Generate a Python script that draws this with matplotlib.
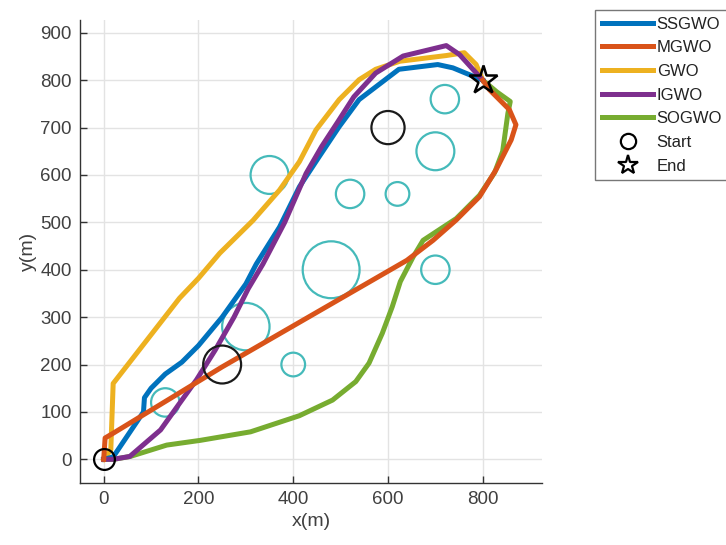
import matplotlib
matplotlib.use("Agg")
import matplotlib.pyplot as plt
from matplotlib.patches import Circle
from matplotlib.lines import Line2D

plt.rcParams['font.family'] = ['Liberation Sans', 'DejaVu Sans']

# ---- data ----
ssgwo_x = [0, 20, 84, 86, 100, 130, 165, 200, 250, 300, 322, 371, 413, 455, 497, 539, 581, 623, 705, 737, 800]
ssgwo_y = [0, 5, 100, 130, 150, 180, 205, 240, 300, 370, 412, 490, 575, 639, 702, 759, 791, 823, 833, 826, 800]

mgwo_x = [0, 3, 20, 250, 640, 695, 744, 793, 828, 860, 870, 856, 814, 800]
mgwo_y = [0, 45, 55, 195, 420, 462, 505, 554, 611, 674, 706, 738, 780, 800]

gwo_x = [0, 15, 20, 160, 200, 245, 315, 371, 413, 448, 497, 539, 574, 625, 723, 761, 786, 800]
gwo_y = [0, 20, 160, 340, 382, 435, 504, 568, 628, 695, 759, 801, 823, 840, 852, 858, 833, 800]

igwo_x = [0, 20, 55, 120, 160, 196, 235, 275, 305, 336, 382, 427, 460, 494, 528, 574, 632, 723, 751, 800]
igwo_y = [0, 0, 6, 62, 118, 168, 230, 300, 360, 412, 500, 603, 660, 712, 765, 815, 851, 873, 854, 800]

sogwo_x = [0, 21, 56, 133, 204, 310, 413, 483, 532, 560, 588, 609, 626, 653, 674, 744, 793, 825, 842, 853, 858, 830, 800]
sogwo_y = [0, 0, 6, 30, 40, 58, 92, 125, 164, 203, 266, 322, 375, 427, 462, 508, 557, 605, 650, 730, 755, 775, 800]

obs_x = [350, 520, 620, 720, 700, 480, 300, 400, 700, 130]
obs_y = [600, 560, 560, 760, 650, 400, 280, 200, 400, 120]
obs_r = [40, 30, 25, 30, 40, 60, 50, 25, 30, 30]

threat_x = [600, 250]
threat_y = [700, 200]
threat_r = [35, 40]

start_pt = (0, 0)
end_pt = (800, 800)

x_ticks = [0, 200, 400, 600, 800]
y_ticks = [0, 100, 200, 300, 400, 500, 600, 700, 800, 900]

labels = ['SSGWO', 'MGWO', 'GWO', 'IGWO', 'SOGWO', 'Start', 'End']
colors = ['#0072BD', '#D95319', '#EDB120', '#7E2F8E', '#77AC30']

# ---- figure ----
fig = plt.figure(figsize=(7.26, 5.45), dpi=100)
ax = fig.add_axes([80/726, 1 - 483/545, 462/726, 463/545])

for cx, cy, r in zip(obs_x, obs_y, obs_r):
    ax.add_patch(Circle((cx, cy), r, fill=False, edgecolor='#45baba', lw=1.6, zorder=2))
for cx, cy, r in zip(threat_x, threat_y, threat_r):
    ax.add_patch(Circle((cx, cy), r, fill=False, edgecolor='#1a1a1a', lw=1.6, zorder=6))

lw = 3.6
ax.plot(sogwo_x, sogwo_y, color=colors[4], lw=lw, zorder=3, solid_joinstyle='round')
ax.plot(gwo_x, gwo_y, color=colors[2], lw=lw, zorder=3, solid_joinstyle='round')
ax.plot(ssgwo_x, ssgwo_y, color=colors[0], lw=lw, zorder=4, solid_joinstyle='round')
ax.plot(igwo_x, igwo_y, color=colors[3], lw=lw, zorder=4.5, solid_joinstyle='round')
ax.plot(mgwo_x, mgwo_y, color=colors[1], lw=lw, zorder=5, solid_joinstyle='round')

ax.plot([start_pt[0]], [start_pt[1]], 'o', ms=15, mfc='none', mec='k', mew=1.6, zorder=7)
ax.plot([end_pt[0]], [end_pt[1]], '*', ms=21, mfc='none', mec='k', mew=1.8, zorder=7)

ax.set_xlim(-50, 925)
ax.set_ylim(-50, 927)
ax.set_xticks(x_ticks)
ax.set_yticks(y_ticks)
ax.grid(True, color='#e3e3e3', lw=1.0, zorder=0)
ax.set_axisbelow(True)
for s in ['top', 'right']:
    ax.spines[s].set_visible(False)
for s in ['left', 'bottom']:
    ax.spines[s].set_color('#333333')
    ax.spines[s].set_linewidth(1.0)
ax.tick_params(direction='in', length=5, width=1, colors='#333333', labelsize=13.5,
               labelcolor='#404040', pad=6)
ax.set_xlabel('x(m)', fontsize=14, color='#404040', labelpad=3)
ax.set_ylabel('y(m)', fontsize=14, color='#404040', labelpad=2)

handles = [Line2D([], [], color=c, lw=lw) for c in colors]
handles.append(Line2D([], [], marker='o', ls='none', ms=11, mfc='none', mec='k', mew=1.6))
handles.append(Line2D([], [], marker='*', ls='none', ms=15, mfc='none', mec='k', mew=1.6))
leg = fig.legend(handles, labels, loc='upper left', bbox_to_anchor=(595/726, 1 - 10/545),
                 fontsize=12, frameon=True, fancybox=False, edgecolor='#555555',
                 handlelength=3.1, handletextpad=0.2, labelspacing=0.52, borderpad=0.4,
                 borderaxespad=0)
leg.get_frame().set_linewidth(1.0)
for t in leg.get_texts():
    t.set_color('#222222')

fig.savefig('out.png', dpi=100)
